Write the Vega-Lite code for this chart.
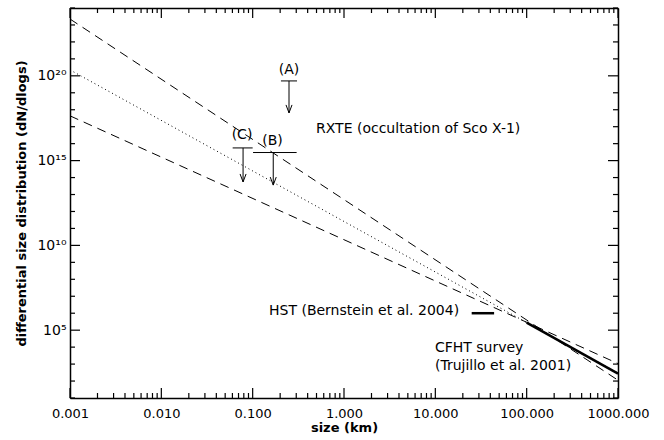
{
  "$schema": "https://vega.github.io/schema/vega-lite/v6.json",
  "width": 548,
  "height": 390,
  "autosize": "none",
  "padding": {"left": 70, "top": 8, "right": 46, "bottom": 42},
  "background": "white",
  "config": {
    "view": {"stroke": null},
    "font": "DejaVu Sans",
    "axis": {"domainColor": "black", "labelColor": "black", "titleColor": "black", "grid": false, "domainWidth": 1.5, "labelFont": "DejaVu Sans", "titleFont": "DejaVu Sans", "labelFlush": false, "labelOverlap": false, "ticks": false, "tickSize": 0}
  },
  "datasets": {
    "lines": [
      {"series": "upper", "x": 0.001, "y": 2.24e23}, {"series": "upper", "x": 1000, "y": 112},
      {"series": "lower", "x": 0.001, "y": 4.37e17}, {"series": "lower", "x": 1000, "y": 1072},
      {"series": "dotted", "x": 0.001, "y": 2.24e20}, {"series": "dotted", "x": 1000, "y": 295},
      {"series": "cfht", "x": 100, "y": 2.82e5}, {"series": "cfht", "x": 1000, "y": 275},
      {"series": "hst", "x": 25, "y": 1e6}, {"series": "hst", "x": 44, "y": 1e6}
    ],
    "limits": [
      {"id": "A", "x": 0.25, "xlo": 0.204, "xhi": 0.306, "ybar": 5.0e19, "ytip": 6.5e17},
      {"id": "C", "x": 0.0785, "xlo": 0.0604, "xhi": 0.100, "ybar": 5.6e15, "ytip": 5.5e13},
      {"id": "B", "x": 0.168, "xlo": 0.101, "xhi": 0.303, "ybar": 3.0e15, "ytip": 3.6e13}
    ],
    "notes": [
      {"text": "RXTE (occultation of Sco X-1)", "x": 0.494, "y": 7.4e16},
      {"text": "HST (Bernstein et al. 2004)", "x": 0.151, "y": 1.32e6},
      {"text": "CFHT survey", "x": 9.9, "y": 8.7e3},
      {"text": "(Trujillo et al. 2001)", "x": 9.9, "y": 741}
    ],
    "tags": [
      {"text": "(A)", "x": 0.25, "y": 2.24e20},
      {"text": "(C)", "x": 0.0764, "y": 3.3e16},
      {"text": "(B)", "x": 0.165, "y": 1.45e16}
    ],
    "xticks": [
      {"v": 0.001, "kind": "major"}, {"v": 0.002, "kind": "minor"}, {"v": 0.003, "kind": "minor"}, {"v": 0.004, "kind": "minor"}, {"v": 0.005, "kind": "minor"}, {"v": 0.006, "kind": "minor"}, {"v": 0.007, "kind": "minor"}, {"v": 0.008, "kind": "minor"}, {"v": 0.009, "kind": "minor"},
      {"v": 0.01, "kind": "major"}, {"v": 0.02, "kind": "minor"}, {"v": 0.03, "kind": "minor"}, {"v": 0.04, "kind": "minor"}, {"v": 0.05, "kind": "minor"}, {"v": 0.06, "kind": "minor"}, {"v": 0.07, "kind": "minor"}, {"v": 0.08, "kind": "minor"}, {"v": 0.09, "kind": "minor"},
      {"v": 0.1, "kind": "major"}, {"v": 0.2, "kind": "minor"}, {"v": 0.3, "kind": "minor"}, {"v": 0.4, "kind": "minor"}, {"v": 0.5, "kind": "minor"}, {"v": 0.6, "kind": "minor"}, {"v": 0.7, "kind": "minor"}, {"v": 0.8, "kind": "minor"}, {"v": 0.9, "kind": "minor"},
      {"v": 1, "kind": "major"}, {"v": 2, "kind": "minor"}, {"v": 3, "kind": "minor"}, {"v": 4, "kind": "minor"}, {"v": 5, "kind": "minor"}, {"v": 6, "kind": "minor"}, {"v": 7, "kind": "minor"}, {"v": 8, "kind": "minor"}, {"v": 9, "kind": "minor"},
      {"v": 10, "kind": "major"}, {"v": 20, "kind": "minor"}, {"v": 30, "kind": "minor"}, {"v": 40, "kind": "minor"}, {"v": 50, "kind": "minor"}, {"v": 60, "kind": "minor"}, {"v": 70, "kind": "minor"}, {"v": 80, "kind": "minor"}, {"v": 90, "kind": "minor"},
      {"v": 100, "kind": "major"}, {"v": 200, "kind": "minor"}, {"v": 300, "kind": "minor"}, {"v": 400, "kind": "minor"}, {"v": 500, "kind": "minor"}, {"v": 600, "kind": "minor"}, {"v": 700, "kind": "minor"}, {"v": 800, "kind": "minor"}, {"v": 900, "kind": "minor"},
      {"v": 1000, "kind": "major"}
    ],
    "yticks": [
      {"v": 1e1, "kind": "minor"}, {"v": 1e2, "kind": "minor"}, {"v": 1e3, "kind": "minor"}, {"v": 1e4, "kind": "minor"}, {"v": 1e5, "kind": "major"},
      {"v": 1e6, "kind": "minor"}, {"v": 1e7, "kind": "minor"}, {"v": 1e8, "kind": "minor"}, {"v": 1e9, "kind": "minor"}, {"v": 1e10, "kind": "major"},
      {"v": 1e11, "kind": "minor"}, {"v": 1e12, "kind": "minor"}, {"v": 1e13, "kind": "minor"}, {"v": 1e14, "kind": "minor"}, {"v": 1e15, "kind": "major"},
      {"v": 1e16, "kind": "minor"}, {"v": 1e17, "kind": "minor"}, {"v": 1e18, "kind": "minor"}, {"v": 1e19, "kind": "minor"}, {"v": 1e20, "kind": "major"},
      {"v": 1e21, "kind": "minor"}, {"v": 1e22, "kind": "minor"}, {"v": 1e23, "kind": "minor"}, {"v": 1e24, "kind": "minor"}
    ]
  },
  "layer": [
    {
      "data": {"name": "lines"},
      "transform": [{"filter": "datum.series == 'upper' || datum.series == 'lower'"}],
      "mark": {"type": "line", "color": "black", "strokeWidth": 1, "strokeDash": [9, 6]},
      "encoding": {
        "x": {"field": "x", "type": "quantitative", "scale": {"type": "log", "domain": [0.001, 1000]},
          "axis": {
            "orient": "bottom",
            "values": [0.001, 0.01, 0.1, 1, 10, 100, 1000],
            "format": ".3f",
            "labelFontSize": 13,
            "labelPadding": 9,
            "title": "size (km)",
            "titleFontSize": 13,
            "titleFontWeight": "bold",
            "titlePadding": 1
          }},
        "y": {"field": "y", "type": "quantitative", "scale": {"type": "log", "domain": [10, 1e24]},
          "axis": {
            "orient": "left",
            "values": [1e5, 1e10, 1e15, 1e20],
            "labelExpr": "round(log(datum.value)/LN10) == 5 ? '10⁵' : round(log(datum.value)/LN10) == 10 ? '10¹⁰' : round(log(datum.value)/LN10) == 15 ? '10¹⁵' : '10²⁰'",
            "labelFontSize": 14,
            "labelPadding": 4,
            "title": "differential size distribution (dN/dlogs)",
            "titleFontSize": 13,
            "titleFontWeight": "bold",
            "titlePadding": 8
          }},
        "detail": {"field": "series"}
      }
    },
    {
      "data": {"name": "lines"},
      "transform": [{"filter": "datum.series == 'dotted'"}],
      "mark": {"type": "line", "color": "black", "strokeWidth": 1, "strokeDash": [1, 3]},
      "encoding": {
        "x": {"field": "x", "type": "quantitative", "scale": {"type": "log", "domain": [0.001, 1000]}, "axis": null},
        "y": {"field": "y", "type": "quantitative", "scale": {"type": "log", "domain": [10, 1e24]}, "axis": null}
      }
    },
    {
      "data": {"name": "lines"},
      "transform": [{"filter": "datum.series == 'cfht' || datum.series == 'hst'"}],
      "mark": {"type": "line", "color": "black", "strokeWidth": 2.5},
      "encoding": {
        "x": {"field": "x", "type": "quantitative", "scale": {"type": "log", "domain": [0.001, 1000]},
          "axis": {"orient": "top", "labels": false, "values": [0.001, 1000], "title": null}},
        "y": {"field": "y", "type": "quantitative", "scale": {"type": "log", "domain": [10, 1e24]},
          "axis": {"orient": "right", "labels": false, "values": [10, 1e24], "title": null}},
        "detail": {"field": "series"}
      }
    },
    {
      "data": {"name": "xticks"},
      "transform": [{"filter": "datum.kind == 'major'"}],
      "mark": {"type": "rule", "color": "black", "strokeWidth": 1.2, "y2Offset": -10},
      "encoding": {
        "x": {"field": "v", "type": "quantitative", "scale": {"type": "log", "domain": [0.001, 1000]}, "axis": null},
        "y": {"datum": 10, "type": "quantitative", "scale": {"type": "log", "domain": [10, 1e24]}, "axis": null},
        "y2": {"datum": 10}
      }
    },
    {
      "data": {"name": "xticks"},
      "transform": [{"filter": "datum.kind == 'minor'"}],
      "mark": {"type": "rule", "color": "black", "strokeWidth": 1.2, "y2Offset": -5},
      "encoding": {
        "x": {"field": "v", "type": "quantitative", "scale": {"type": "log", "domain": [0.001, 1000]}, "axis": null},
        "y": {"datum": 10, "type": "quantitative", "scale": {"type": "log", "domain": [10, 1e24]}, "axis": null},
        "y2": {"datum": 10}
      }
    },
    {
      "data": {"name": "xticks"},
      "transform": [{"filter": "datum.kind == 'major'"}],
      "mark": {"type": "rule", "color": "black", "strokeWidth": 1.2, "y2Offset": 10},
      "encoding": {
        "x": {"field": "v", "type": "quantitative", "scale": {"type": "log", "domain": [0.001, 1000]}, "axis": null},
        "y": {"datum": 1e24, "type": "quantitative", "scale": {"type": "log", "domain": [10, 1e24]}, "axis": null},
        "y2": {"datum": 1e24}
      }
    },
    {
      "data": {"name": "xticks"},
      "transform": [{"filter": "datum.kind == 'minor'"}],
      "mark": {"type": "rule", "color": "black", "strokeWidth": 1.2, "y2Offset": 5},
      "encoding": {
        "x": {"field": "v", "type": "quantitative", "scale": {"type": "log", "domain": [0.001, 1000]}, "axis": null},
        "y": {"datum": 1e24, "type": "quantitative", "scale": {"type": "log", "domain": [10, 1e24]}, "axis": null},
        "y2": {"datum": 1e24}
      }
    },
    {
      "data": {"name": "yticks"},
      "transform": [{"filter": "datum.kind == 'major'"}],
      "mark": {"type": "rule", "color": "black", "strokeWidth": 1.2, "x2Offset": 10},
      "encoding": {
        "x": {"datum": 0.001, "type": "quantitative", "scale": {"type": "log", "domain": [0.001, 1000]}, "axis": null},
        "x2": {"datum": 0.001},
        "y": {"field": "v", "type": "quantitative", "scale": {"type": "log", "domain": [10, 1e24]}, "axis": null}
      }
    },
    {
      "data": {"name": "yticks"},
      "transform": [{"filter": "datum.kind == 'minor'"}],
      "mark": {"type": "rule", "color": "black", "strokeWidth": 1.2, "x2Offset": 5},
      "encoding": {
        "x": {"datum": 0.001, "type": "quantitative", "scale": {"type": "log", "domain": [0.001, 1000]}, "axis": null},
        "x2": {"datum": 0.001},
        "y": {"field": "v", "type": "quantitative", "scale": {"type": "log", "domain": [10, 1e24]}, "axis": null}
      }
    },
    {
      "data": {"name": "yticks"},
      "transform": [{"filter": "datum.kind == 'major'"}],
      "mark": {"type": "rule", "color": "black", "strokeWidth": 1.2, "x2Offset": -10},
      "encoding": {
        "x": {"datum": 1000, "type": "quantitative", "scale": {"type": "log", "domain": [0.001, 1000]}, "axis": null},
        "x2": {"datum": 1000},
        "y": {"field": "v", "type": "quantitative", "scale": {"type": "log", "domain": [10, 1e24]}, "axis": null}
      }
    },
    {
      "data": {"name": "yticks"},
      "transform": [{"filter": "datum.kind == 'minor'"}],
      "mark": {"type": "rule", "color": "black", "strokeWidth": 1.2, "x2Offset": -5},
      "encoding": {
        "x": {"datum": 1000, "type": "quantitative", "scale": {"type": "log", "domain": [0.001, 1000]}, "axis": null},
        "x2": {"datum": 1000},
        "y": {"field": "v", "type": "quantitative", "scale": {"type": "log", "domain": [10, 1e24]}, "axis": null}
      }
    },
    {
      "data": {"name": "limits"},
      "mark": {"type": "rule", "color": "black", "strokeWidth": 1},
      "encoding": {
        "x": {"field": "x", "type": "quantitative", "scale": {"type": "log", "domain": [0.001, 1000]}, "axis": null},
        "y": {"field": "ybar", "type": "quantitative", "scale": {"type": "log", "domain": [10, 1e24]}, "axis": null},
        "y2": {"field": "ytip"}
      }
    },
    {
      "data": {"name": "limits"},
      "mark": {"type": "rule", "color": "black", "strokeWidth": 1},
      "encoding": {
        "x": {"field": "xlo", "type": "quantitative", "scale": {"type": "log", "domain": [0.001, 1000]}, "axis": null},
        "x2": {"field": "xhi"},
        "y": {"field": "ybar", "type": "quantitative", "scale": {"type": "log", "domain": [10, 1e24]}, "axis": null}
      }
    },
    {
      "data": {"name": "limits"},
      "mark": {"type": "point", "shape": "M -0.75 -2 L 0 0 L 0.75 -2", "filled": false, "size": 64, "strokeWidth": 1, "color": "black", "opacity": 1},
      "encoding": {
        "x": {"field": "x", "type": "quantitative", "scale": {"type": "log", "domain": [0.001, 1000]}, "axis": null},
        "y": {"field": "ytip", "type": "quantitative", "scale": {"type": "log", "domain": [10, 1e24]}, "axis": null}
      }
    },
    {
      "data": {"name": "notes"},
      "mark": {"type": "text", "color": "black", "fontSize": 14, "baseline": "middle", "align": "left", "font": "DejaVu Sans"},
      "encoding": {
        "x": {"field": "x", "type": "quantitative", "scale": {"type": "log", "domain": [0.001, 1000]}, "axis": null},
        "y": {"field": "y", "type": "quantitative", "scale": {"type": "log", "domain": [10, 1e24]}, "axis": null},
        "text": {"field": "text"}
      }
    },
    {
      "data": {"name": "tags"},
      "mark": {"type": "text", "color": "black", "fontSize": 14, "baseline": "middle", "align": "center", "font": "DejaVu Sans"},
      "encoding": {
        "x": {"field": "x", "type": "quantitative", "scale": {"type": "log", "domain": [0.001, 1000]}, "axis": null},
        "y": {"field": "y", "type": "quantitative", "scale": {"type": "log", "domain": [10, 1e24]}, "axis": null},
        "text": {"field": "text"}
      }
    }
  ],
  "resolve": {"axis": {"x": "independent", "y": "independent"}}
}
